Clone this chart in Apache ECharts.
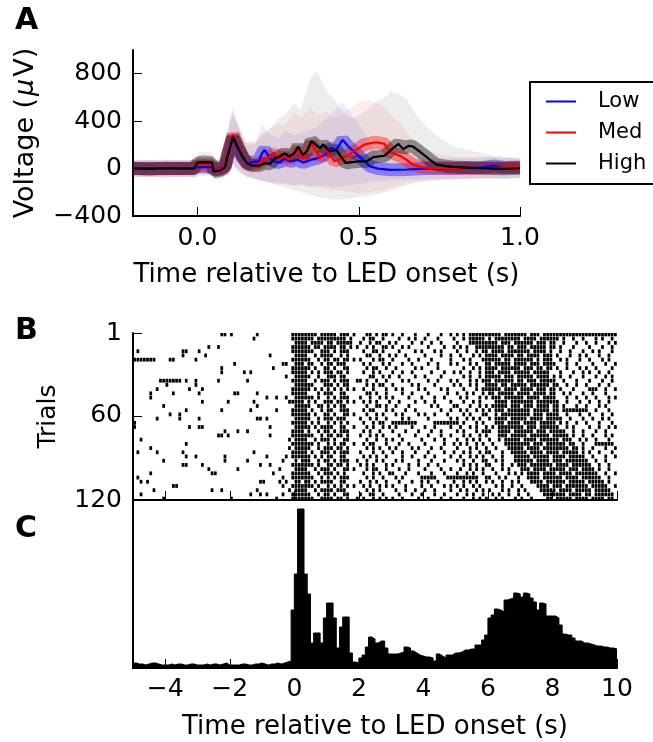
<!DOCTYPE html>
<html><head><meta charset="utf-8">
<script src="https://cdn.jsdelivr.net/npm/echarts@6/dist/echarts.min.js"></script>
<style>html,body{margin:0;padding:0;background:#fff}#c{width:653px;height:742px}</style>
</head><body><div id="c"></div>
<script>
// ================= Panel A : mean voltage traces =================
const lowMean = [[-0.2,0],[-0.15,3],[-0.1,-2],[-0.05,2],[-0.01,0],[0.0,15],[0.045,15],[0.05,-5],[0.07,0],[0.085,20],[0.095,130],[0.11,258],[0.125,170],[0.14,90],[0.155,40],[0.172,55],[0.19,60],[0.2,130],[0.208,158],[0.224,90],[0.239,58],[0.255,50],[0.27,90],[0.286,60],[0.312,75],[0.327,50],[0.353,75],[0.37,85],[0.39,110],[0.414,175],[0.43,158],[0.45,242],[0.47,180],[0.485,144],[0.507,89],[0.535,19],[0.56,0],[0.6,-11],[0.65,-8],[0.7,0],[0.8,2],[0.88,8],[0.92,22],[0.95,10],[1.0,8]];
const medMean = [[-0.2,0],[-0.15,-3],[-0.1,2],[-0.05,-2],[-0.01,0],[0.0,33],[0.045,30],[0.05,-10],[0.07,-5],[0.085,20],[0.095,140],[0.11,290],[0.125,190],[0.14,100],[0.155,40],[0.17,30],[0.19,45],[0.208,75],[0.224,100],[0.239,128],[0.255,80],[0.27,108],[0.286,75],[0.312,158],[0.327,75],[0.353,214],[0.369,144],[0.379,89],[0.40,158],[0.425,61],[0.46,103],[0.493,158],[0.515,200],[0.535,214],[0.555,222],[0.58,208],[0.596,144],[0.615,120],[0.632,103],[0.65,70],[0.668,33],[0.69,15],[0.72,6],[0.8,2],[0.9,5],[0.99,14],[1.0,12]];
const highMean = [[-0.2,2],[-0.15,-3],[-0.1,3],[-0.05,0],[-0.01,2],[0.0,50],[0.02,55],[0.045,50],[0.05,-25],[0.07,-15],[0.085,10],[0.095,120],[0.11,270],[0.125,180],[0.14,100],[0.155,40],[0.17,25],[0.19,25],[0.21,45],[0.225,40],[0.24,86],[0.255,100],[0.27,128],[0.285,100],[0.3,130],[0.312,186],[0.327,114],[0.34,150],[0.353,231],[0.369,197],[0.38,170],[0.389,205],[0.41,144],[0.43,158],[0.445,100],[0.46,47],[0.48,55],[0.5,61],[0.525,61],[0.545,97],[0.58,108],[0.6,158],[0.623,208],[0.638,164],[0.654,192],[0.668,186],[0.689,144],[0.705,110],[0.72,75],[0.741,33],[0.77,20],[0.793,14],[0.85,6],[0.9,2],[0.95,-2],[1.0,3]];

// single-trial spread (envelope of the faint trial traces)
const bandT  = [-0.2,-0.1,-0.005,0.005,0.045,0.055,0.08,0.1,0.11,0.13,0.15,0.18,0.2,0.22,0.25,0.27,0.3,0.32,0.35,0.37,0.4,0.42,0.45,0.48,0.5,0.53,0.55,0.58,0.6,0.63,0.65,0.68,0.7,0.75,0.8,0.85,0.9,0.95,1.0];
const lowHi  = [70,75,70,80,80,60,80,420,520,330,200,200,380,300,250,320,280,300,330,350,420,480,560,450,380,250,150,110,100,90,90,90,90,90,85,90,95,90,80];
const lowLo  = [-70,-75,-70,-60,-60,-80,-70,-40,20,-30,-70,-90,-100,-120,-130,-120,-140,-130,-150,-140,-150,-160,-150,-140,-130,-120,-110,-100,-100,-95,-90,-90,-90,-90,-85,-85,-80,-85,-80];
const medHi  = [75,70,75,100,100,70,90,430,480,360,220,230,300,330,380,360,480,420,520,450,480,430,460,520,560,580,560,520,450,380,300,220,170,120,100,95,100,95,90];
const medLo  = [-75,-70,-75,-50,-50,-70,-60,-30,40,-20,-60,-80,-100,-110,-120,-130,-150,-140,-160,-160,-170,-180,-190,-200,-210,-200,-190,-180,-160,-140,-120,-110,-100,-90,-85,-85,-80,-85,-80];
const highHi = [70,75,70,140,140,60,80,380,450,340,220,220,280,320,420,450,550,500,760,820,650,600,480,420,450,500,560,600,650,620,580,450,380,260,180,150,120,100,90];
const highLo = [-70,-70,-70,-40,-40,-100,-80,-30,40,-30,-70,-90,-110,-120,-140,-160,-180,-200,-220,-240,-250,-260,-260,-250,-240,-230,-220,-200,-180,-160,-140,-120,-110,-100,-90,-85,-85,-85,-80];

const aXTicks = [0, 0.5, 1.0];
const aYTicks = [-400, 0, 400, 800];
const conditionNames = ['Low', 'Med', 'High'];

// ================= Panel B : spike raster =================
// each row = 3 trials; each character = 0.1 s bin from -5 s; '#' = spike.
// segments (separated by |) start at bins 0, 50, 70, 110 ; spaces are only for readability
const rasterBinStart = -5, rasterBinWidth = 0.1, trialsPerRow = 3;
const rasterSegStarts = [0, 50, 70, 110];
const rasterRows = [
".......... .......... .......##. #.......#. .........#|##### ##.## ###.# ##.#.|..##.#.##. #..#...#.. .#...#..#. #.#.######|####.##### ##.###.### ########## ##########",
".......... .......... .......... .......#.. .........#|##### #.### ##### #.#..|.#.##..#.. ..#..#.#.. #...#....# ..#.#####.|#.######## .####.#### ##.#..#..# ...#.#..#.",
".......... .......... .......... .......... ..........|####. ####. ##.## ###..|#..#.##..# .#....#..# ..#..#.... #...######|###.###.## ####.###.# #..#...#.. #..#...#.#",
".......... .......... ...#..#... .......... .........#|##### .##.# ###.# #.#.#|..#.#..##. #..#.#.... .#....#..# .#.#..####|#####.##.# ##.#####.# #.#...#... .#...#..#.",
".#........ .....##... #......... .......... .........#|##### #..## #.#.# ##...|.#..##.#.. ..#....#.# ...#.#.... #..#..#.##|.####.#### ###.####.# ..#..#...# ..#.#...#.",
".......... .....#.... ..#....... .......... ..#.......|####. .#.## ##..# .#...|..##..#..# .#..#..... #....#..#. .#...#.#.#|###.####.# #.####.### .#...#..#. #...#..#..",
"#######... .##......# .......... .......... .........#|##### ..#.# #.##. ##.#.|#...#.##.. #....#..#. ..#.....#. ..#.#...##|####.##.## ####.#.### ..#.#...#. .#...#.#..",
".......... .......... .......... .#........ ......##..|###.# #..#. ##.## #....|.#.#...#.# ...#..#... .#..#...#. #...#.#..#|#.#####.## ##.###.### #...#..#.. ..#...#..#",
".......... .......... .......#.. .......... ...#.....#|##### .#..# #.#.. ##...|..#.##..#. .#.....#.# ....#..... ..#..#.#.#|###.###### .###.##.## .#..#...#. #..#....#.",
".......... .......... .......#.. ....#.#... .........#|####. #.#.# ##.## .#...|.#..#.#... #..#..#... ..#...#..# .#..#..#.#|##.####.## ###.#####. ..#...#..# .#..#..#..",
".......... .......... .......... .......... .......#..|##### ..#.. ###.# #....|...##..#.# ..#....#.. #....#.... ..#.#..#.#|####.###.# ####.####. #.#..#...# ...#..#.#.",
"........## #####.#..# ......#... .....#.... .........#|####. .#.## #.#.# ##..#|#.#..#..#. ...#.#.... .#..#...#. #...#.#.##|#.######.# #.###.#### #..#...#.. .#...#..#.",
".......... #........# .......... .......... ..........|##### #...# ##.#. ##...|..#.#.##.. #.....#.#. ...#.....# .#..#.#..#|###.##.### ##.######. ##..#..#.. #...#..#..",
".......#.. .......#.. .#........ .......... .........#|##### .#.#. #.#.# .#.#.|.#..#...#. .#.#....#. #....#.#.. ..#...#.##|####.####. ####.###.# #.#...#... .###..#..#",
".....#.... ..#....... #......... .##.....#. .........#|####. ..#.# ##..# #....|..##.#..#. ...#..#... .#.....#.. #..#.#..#.|##.#####.# ###.####.# #..#.#...# ..#...#...",
".....#.... .......... .......... .......... .#..#..#..|##### #.#.. #.#.# ##...|#..#..#.#. #....#...# ...#..#... .#.#...#.#|.###.##### #.####.### #...#..#.. #..#...#.#",
".......... .......... .#.......# .......#.. ........##|###.# .#..# ##.## .#.#.|.#.#.#...# ..#....#.. #..#....#. ..#..#.#..|..####.### ####.##### ##..#...#. .#..#..#..",
".........# .......... .......... ........#. ..........|##### ..##. #.#.# #....|..#..##.#. .#...#.... ..#.#....# #...#..#.#|.#####.### .###.####. ##.#...#.. #...#.#...",
".......... ......#... .......#.. ......#... ....#....#|####. #..#. ##..# ##...|.#.##...#. #...#..#.. .....#..#. .#.#..#.#.|#.###.#### ###.#####. ##.####### #..#...#..",
".......... .#..#..... .......... .......... .........#|##### .#..# #.#.. ##.#.|..#..#.#.. .#.#....#. #..#...#.. ..#.#...##|..#.###### ###.###.## ##..#...#. .#...#..#.",
".......#.. ....#..... #......... ........## .#........|##### ..#.# ##.## #....|#..#.#..#. ...#.#.... .#......#. #..#.#.#..|#.####.### ##.####.## ###..#...# ..#..#.#..",
"#......... .......... .......... .......... .........#|####. #.#.. #.#.# .#...|.#..#.##.. ########.. ...####### #.#...#.#.|..###.#### .####.#### #.#.#..#.. #...#...#.",
"#......... .......#.. ##........ .......... ..#.......|##### .#.## ##..# #..#.|..#.#..#.# .#....#... #..#....#. .#..#.#..#|.#.####### #.###.#### ##..#.#... .#..#..#.#",
".......... .......... ........#. ..#..#.... .........#|###.# ..#.# #.#.# ##...|.#.#..#... #...#...#. ..#..#.... #.#...#.##|#..####.## ####.###.# ####..#..# ...#..#...",
".......... .......... ......##.# .......... ..#......#|##### #..#. ##.## .#...|#..#.#.#.. ..#....#.. .#...#..#. ..#.#..#.#|...###.### ##.######. #####.#..# ..#...#.#.",
"..#....... .......... .......... .......... ........#.|####. .#.## #.#.. ##...|..#..#..#. #..#.....# ...#..#... #..#.#.#..|#..#.##### .####.#### ##.###..#. #..#...#..",
".......... ......#... .......... .......... .........#|##### #.#.. #.#.# #..#.|.#.##...#. ..#..#.... #.....#..# .#.#..#.#.|.#...##### ###.###.## ####.##..# ...######.",
".....#.... .......... .......... .......... ........#.|##### ..#.# ##.## .#...|..#.#.#..# .#....#.#. ..#..#.... #...#.#..#|..#...#### #.####.### #####.##.# ..#...#..#",
".#.....#.. .....#.... .......... .......#.. .........#|####. #..## #.#.# ##...|#...#..#.. #..#...#.. .#....#..# ..#.#..#.#|#...#..### ##.####.## ##.#####.# .#..#...#.",
".......... ......#..# ........#. .......... .#.....#.#|##### .#.#. ##..# #....|.#.#.#..#. ...#..#... #..#....#. .#..#.#.#.|.#..#...## ###.#####. ####.##### ..#...#..#",
".........# .......... ........#. .....#.... ......#...|#.### ..#.# #.#.# ##..#|..#..#.#.. .#.#....#. ..#...#... #.#..#..##|..#.#...## ####.####. ###.###### #..#..#...",
".......... .....##... .#........ .........# ..#......#|##### #.#.. ##.## .#...|#.#.#...#. #....#..#. .#..#..... ..#.#.#..#|#...#..#.# ##.####### .####.#### ##..#..#..",
".......... .......... ...#...... ..#....... .....#....|####. .#.## #.#.. ##.#.|..#.##..#. ..#..#.... #....#..#. .#..#.#.#.|.#..#.#... ###.####.# ####.###.# ###.#..#..",
".....#.... .......... ....##.... .......... ...#.....#|##### ..#.# ##.#. #....|.#..#.#..# #...#...#. ..#...#... #..#.#..#.|..#...#.#. #.####.### #.####.### ####..#..#",
".#........ .......... .......... .......... ......#..#|##### #..#. #.#.# ##...|..#.#..#.. .#.#.....# ####...### #######..#|#..#.#...# ..####.### ###.####.# #####..#..",
"..#.#..... .......... .......... .........# #....#.#..|##.## .#.## ##..# #....|#..#.#..#. ..#...#..# .#..#....# ..#.#.#..#|.#..#..#.# ...####.## ####.##### .#####.#..",
".......... ..##...... .......... .......... ......#..#|##### #.#.. #.#.# .#.#.|.#.#..#.#. #...#....# ..#...#.#. #.#..#.#..|..#.#..#.. #....####. ###.###### #.#####..#",
"......#... .......... ....#..#.. ........#. ........#.|####. .#.## ##.## #....|..#.#.#... .#..#..#.. #..#....#. .#.#..#.#.|#...#.#..# .#....#### #.####.### ##.#####..",
"..#....... .......... .......... ......#..# .#....#..#|##### ..#.# #.#.. ##...|#..##..#.. ..#...#..# ...#..#... #..#.#..#.|.#.#..#..# ..#....### ####.####. ##.######.",
".........# .......... .......... #......... ....#....#|##### #..## ##.## .#..#|.#..#.#.#. #..#....#. .#...#..#. ..#..#.#.#|..#.#...#. #..#....## .#####.### #.####.##."
];
const bYTicks = [1, 60, 120];

// ================= Panel C : PSTH =================
const histStart = -5, histWidth = 0.1;
const histCounts = [
5,4,4,3,4,5,5,4,3,3, 3,4,3,4,4,3,3,4,4,3, 3,3,4,3,4,4,3,4,5,3, 3,3,3,4,4,3,3,4,4,5, 4,3,4,4,5,4,5,6,7,58,
94,159,159,94,74,25,35,35,25,50, 65,65,50,20,41,51,51,15,6,5,
10,13,21,31,29,25,27,27,20,14, 14,14,15,16,21,20,17,15,13,12,
11,11,10,7,14,12,10,13,13,15, 15,16,18,18,19,19,23,23,28,33,
50,53,59,58,56,68,69,70,75,74, 71,75,74,70,66,58,65,64,52,52,
52,50,43,34,33,33,30,27,27,25, 25,24,23,22,22,21,21,20,20,19
];
const cXTicks = [-4, -2, 0, 2, 4, 6, 8, 10];

// ================= build =================
const spikes = [];
rasterRows.forEach((row, r) => {
  row.split('|').forEach((seg, k) => {
    const s = seg.replace(/ /g, '');
    for (let j = 0; j < s.length; j++) {
      if (s[j] === '#') {
        const c = rasterSegStarts[k] + j;
        spikes.push([rasterBinStart + (c + 0.5) * rasterBinWidth, r * trialsPerRow + 2]);
      }
    }
  });
});
const histSteps = histCounts.map((h, i) => [histStart + i * histWidth, h]);
histSteps.push([histStart + histCounts.length * histWidth, histCounts[histCounts.length - 1]]);

const FONT = "'DejaVu Sans', sans-serif";
const minus = v => (v < 0 ? '\u2212' + Math.abs(v) : String(v));
const axisLineStyle = { show: true, onZero: false, lineStyle: { color: '#000', width: 2 } };
const tickStyle = (vals) => ({ show: true, inside: true, length: 9, lineStyle: { color: '#000', width: 1 }, customValues: vals });
const labelStyle = { color: '#000', fontSize: 25, fontFamily: FONT };

function bandSeries(hi, lo, color) {
  return {
    type: 'custom', xAxisIndex: 0, yAxisIndex: 0, silent: true, clip: true, z: 1,
    data: [[bandT[0], 0]],
    renderItem: (params, api) => {
      const pts = [];
      for (let i = 0; i < bandT.length; i++) pts.push(api.coord([bandT[i], hi[i]]));
      for (let i = bandT.length - 1; i >= 0; i--) pts.push(api.coord([bandT[i], lo[i]]));
      return { type: 'polygon', shape: { points: pts }, style: { fill: color } };
    }
  };
}
function haloSeries(data, color) {
  return { type: 'line', xAxisIndex: 0, yAxisIndex: 0, data, symbol: 'none', silent: true, z: 2,
    lineStyle: { color, width: 13, opacity: 0.38 }, itemStyle: { color } };
}
function meanSeries(name, data, color) {
  return { type: 'line', name, xAxisIndex: 0, yAxisIndex: 0, data, symbol: 'none', z: 5,
    lineStyle: { color, width: 2.2 }, itemStyle: { color } };
}

const chart = echarts.init(document.getElementById('c'), null, { renderer: 'canvas' });
chart.setOption({
  animation: false,
  backgroundColor: '#fff',
  textStyle: { fontFamily: FONT },
  grid: [
    { left: 133, top: 50, width: 387, height: 166 },
    { left: 133, top: 333, width: 484, height: 167 },
    { left: 133, top: 500, width: 484, height: 168 }
  ],
  xAxis: [
    { gridIndex: 0, type: 'value', min: -0.2, max: 1.0, axisLine: axisLineStyle, axisTick: tickStyle(aXTicks),
      axisLabel: Object.assign({ customValues: aXTicks, margin: 10, formatter: v => v.toFixed(1) }, labelStyle),
      splitLine: { show: false },
      name: 'Time relative to LED onset (s)', nameLocation: 'middle', nameGap: 46,
      nameTextStyle: { color: '#000', fontSize: 26, fontFamily: FONT } },
    { gridIndex: 1, type: 'value', min: -5, max: 10, axisLine: axisLineStyle, axisTick: tickStyle(cXTicks),
      axisLabel: { show: false }, splitLine: { show: false } },
    { gridIndex: 2, type: 'value', min: -5, max: 10, axisLine: axisLineStyle, axisTick: tickStyle(cXTicks),
      axisLabel: Object.assign({ customValues: cXTicks, margin: 9, formatter: minus }, labelStyle),
      splitLine: { show: false },
      name: 'Time relative to LED onset (s)', nameLocation: 'middle', nameGap: 46,
      nameTextStyle: { color: '#000', fontSize: 26, fontFamily: FONT } }
  ],
  yAxis: [
    { gridIndex: 0, type: 'value', min: -400, max: 1000, axisLine: axisLineStyle, axisTick: tickStyle(aYTicks),
      axisLabel: Object.assign({ customValues: aYTicks, margin: 11, formatter: minus }, labelStyle),
      splitLine: { show: false },
      name: 'Voltage ({i|\u03bc}V)', nameLocation: 'middle', nameGap: 94,
      nameTextStyle: { color: '#000', fontSize: 27, fontFamily: FONT,
        rich: { i: { fontStyle: 'italic', fontSize: 27, fontFamily: FONT, color: '#000', padding: [0, 2, 0, 2] } } } },
    { gridIndex: 1, type: 'value', min: 1, max: 120, inverse: true, axisLine: axisLineStyle, axisTick: tickStyle(bYTicks),
      axisLabel: Object.assign({ customValues: bYTicks, margin: 11 }, labelStyle),
      splitLine: { show: false },
      name: 'Trials', nameLocation: 'middle', nameGap: 72,
      nameTextStyle: { color: '#000', fontSize: 25, fontFamily: FONT } },
    { gridIndex: 2, type: 'value', min: 0, max: 168, axisLine: axisLineStyle, axisTick: { show: false },
      axisLabel: { show: false }, splitLine: { show: false } }
  ],
  legend: {
    data: conditionNames, orient: 'vertical', left: 530, top: 82, z: 20,
    icon: 'rect', itemWidth: 30, itemHeight: 2, itemGap: 6,
    padding: [7, 10, 8, 16],
    textStyle: { color: '#000', fontSize: 21, fontFamily: FONT, lineHeight: 25, padding: [0, 0, 0, 17] },
    selectedMode: false
  },
  graphic: [
    { type: 'rect', z: 15, silent: true, shape: { x: 530, y: 82, width: 160, height: 102 },
      style: { fill: '#fff', stroke: '#000', lineWidth: 2 } },
    { type: 'text', x: 15, y: 21, style: { text: 'A', fontSize: 30, fontWeight: 'bold', fontFamily: FONT, fill: '#000', verticalAlign: 'middle' } },
    { type: 'text', x: 15, y: 331, style: { text: 'B', fontSize: 30, fontWeight: 'bold', fontFamily: FONT, fill: '#000', verticalAlign: 'middle' } },
    { type: 'text', x: 15, y: 529, style: { text: 'C', fontSize: 30, fontWeight: 'bold', fontFamily: FONT, fill: '#000', verticalAlign: 'middle' } }
  ],
  series: [
    bandSeries(lowHi, lowLo, 'rgba(0,0,255,0.07)'),
    bandSeries(medHi, medLo, 'rgba(255,0,0,0.07)'),
    bandSeries(highHi, highLo, 'rgba(0,0,0,0.07)'),
    haloSeries(lowMean, '#0000ff'),
    haloSeries(medMean, '#ff0000'),
    haloSeries(highMean, '#000000'),
    meanSeries('Low', lowMean, '#0000ff'),
    meanSeries('Med', medMean, '#ff0000'),
    meanSeries('High', highMean, '#000000'),
    { type: 'custom', xAxisIndex: 1, yAxisIndex: 1, data: spikes, clip: true, silent: true, progressive: 0,
      renderItem: (params, api) => {
        const p = api.coord([api.value(0), api.value(1)]);
        const s = api.size([0.085, 2.7]);
        return { type: 'rect', shape: { x: p[0] - s[0] / 2, y: p[1] - s[1] / 2, width: s[0], height: s[1] }, style: { fill: '#000' } };
      } },
    { type: 'line', xAxisIndex: 2, yAxisIndex: 2, data: histSteps, step: 'end', symbol: 'none', silent: true,
      lineStyle: { color: '#000', width: 1 }, areaStyle: { color: '#000', opacity: 1 } }
  ]
});
</script></body></html>
